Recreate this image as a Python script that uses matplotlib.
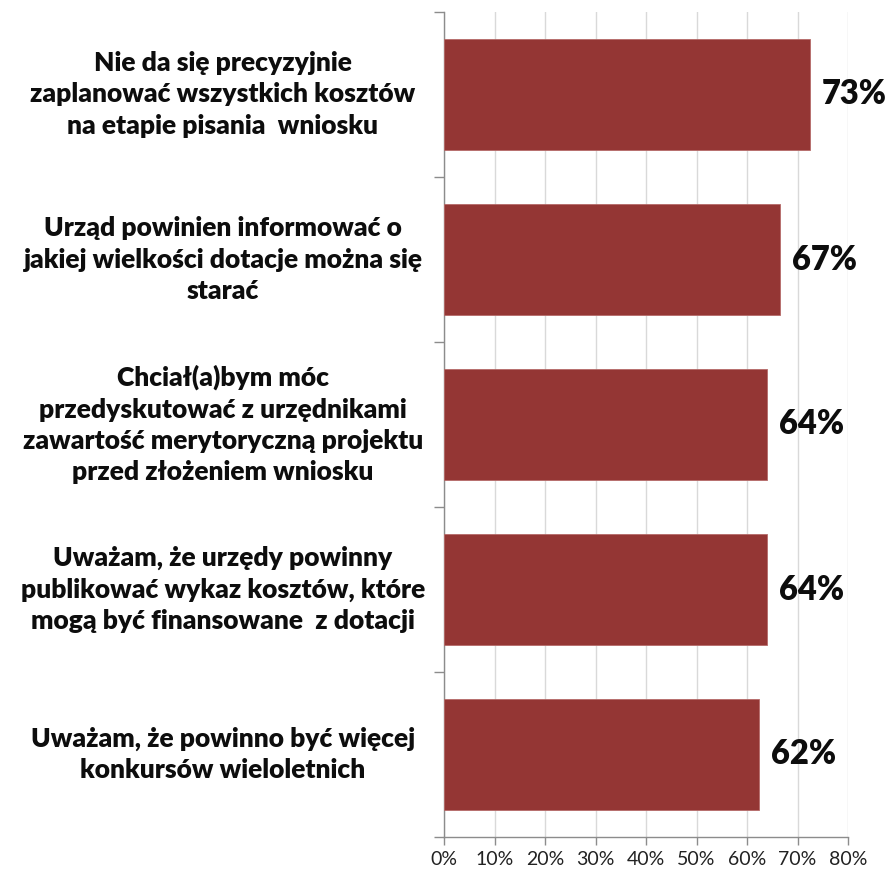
import matplotlib
matplotlib.use("Agg")
import matplotlib.pyplot as plt
import matplotlib.transforms as mtransforms
import numpy as np

categories = [
    "Nie da się precyzyjnie\nzaplanować wszystkich kosztów\nna etapie pisania  wniosku",
    "Urząd powinien informować o\njakiej wielkości dotacje można się\nstarać",
    "Chciał(a)bym móc\nprzedyskutować z urzędnikami\nzawartość merytoryczną projektu\nprzed złożeniem wniosku",
    "Uważam, że urzędy powinny\npublikować wykaz kosztów, które\nmogą być finansowane  z dotacji",
    "Uważam, że powinno być więcej\nkonkursów wieloletnich",
]
values = [72.5, 66.5, 64.0, 64.0, 62.3]
value_labels = ["73%", "67%", "64%", "64%", "62%"]
x_ticks = [0, 10, 20, 30, 40, 50, 60, 70, 80]
x_tick_labels = ["0%", "10%", "20%", "30%", "40%", "50%", "60%", "70%", "80%"]

FONT = ["Lato", "DejaVu Sans"]
plt.rcParams["font.family"] = FONT

fig = plt.figure(figsize=(8.89, 8.73), dpi=100)
ax = fig.add_axes([444 / 889, 1 - 837 / 873, (848 - 444) / 889, (837 - 12) / 873])

y = np.arange(len(categories))
ax.barh(y, values, height=0.67, color="#943634", edgecolor="#b56a68", linewidth=0.6, zorder=3)
ax.set_ylim(len(categories) - 0.5, -0.5)
ax.set_xlim(0, 80)

ax.set_xticks(x_ticks)
ax.set_xticklabels(x_tick_labels, fontsize=14, color="#222222")
ax.tick_params(axis="x", direction="out", length=6, width=1, color="#8c8c8c", pad=4)

ax.set_yticks([])
ax.set_yticks(np.arange(-0.5, len(categories) + 0.5, 1.0), minor=True)
ax.tick_params(axis="y", which="minor", direction="out", length=7, width=1, color="#8c8c8c")
ax.tick_params(axis="y", which="major", length=0)

ax.grid(axis="x", color="#d9d9d9", linewidth=1, zorder=0)
for s in ["top", "right"]:
    ax.spines[s].set_visible(False)
for s in ["left", "bottom"]:
    ax.spines[s].set_color("#8c8c8c")
    ax.spines[s].set_linewidth(1)

trans = mtransforms.blended_transform_factory(fig.transFigure, ax.transData)
for yi, cat in zip(y, categories):
    ax.text(223 / 889, yi, cat, transform=trans, ha="center", va="center",
            multialignment="center", fontsize=19, fontweight="heavy",
            linespacing=1.36, color="#0d0d0d")

for yi, v, lab in zip(y, values, value_labels):
    ax.annotate(lab, (v, yi), xytext=(12, 0), textcoords="offset pixels",
                ha="left", va="center", fontsize=23.5, fontweight="heavy", color="#0d0d0d")

fig.savefig("out.png", dpi=100)
